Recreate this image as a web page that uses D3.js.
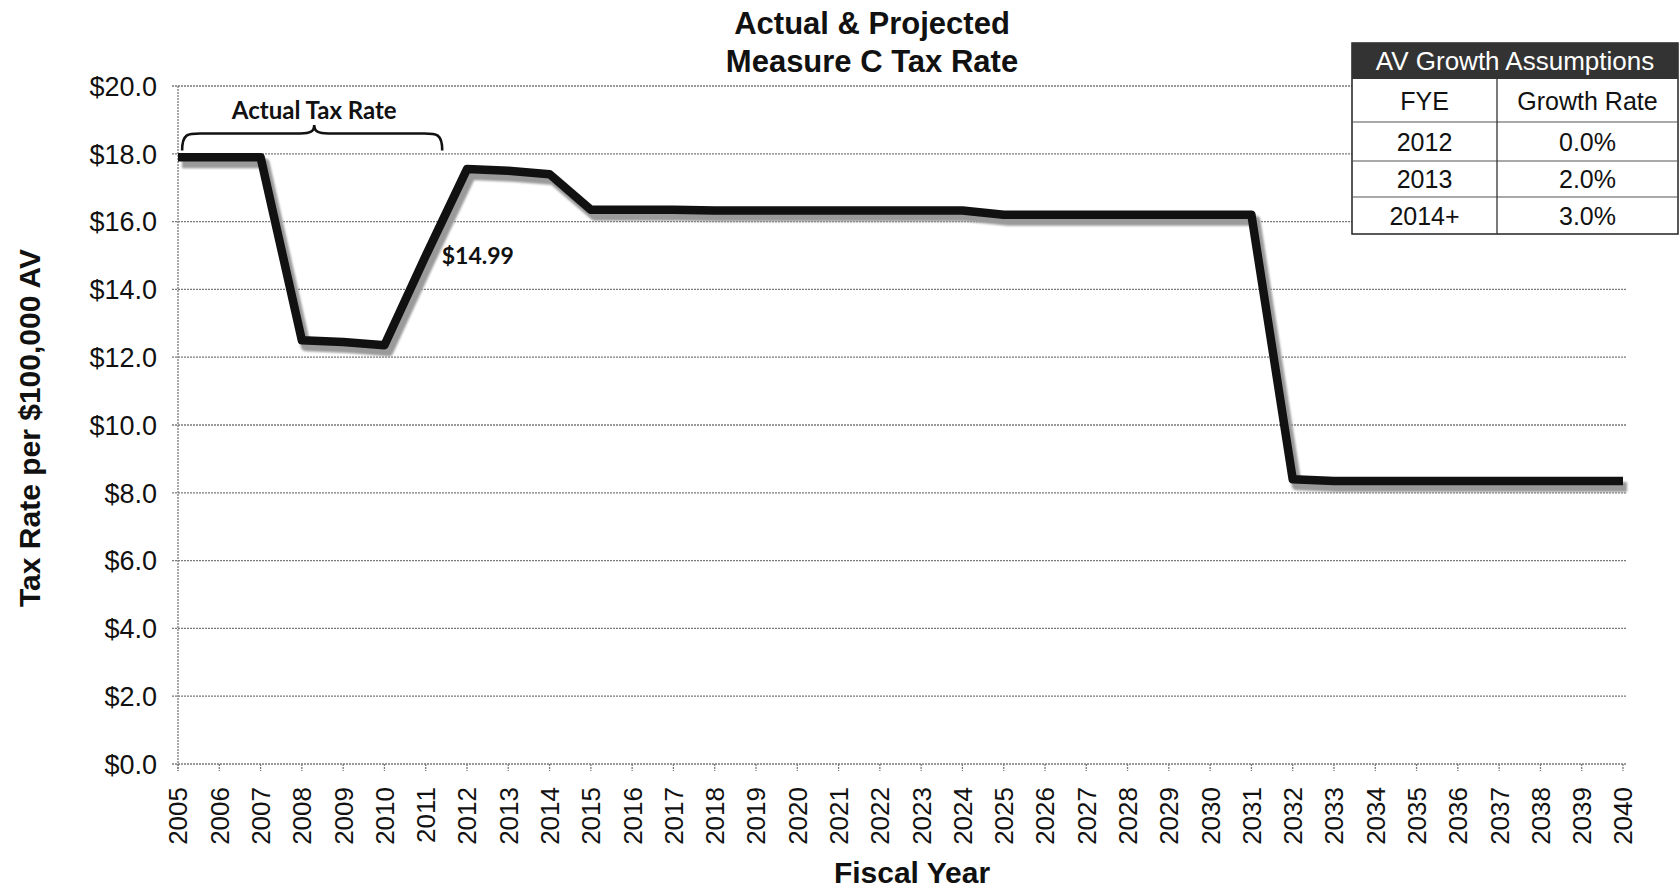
<!DOCTYPE html>
<html>
<head>
<meta charset="utf-8">
<script src="https://cdn.jsdelivr.net/npm/d3@7"></script>
<style>
body { margin:0; background:#fff; }
text { font-family: "Liberation Sans", Arial, sans-serif; fill:#111; }
</style>
</head>
<body>
<script>
// fiscal years and the tax rate per $100,000 AV
var years = d3.range(2005, 2041);
var rates = [17.9, 17.9, 17.9, 12.5, 12.45, 12.35, 14.99, 17.55, 17.5, 17.4,
             16.35, 16.35, 16.35, 16.33, 16.33, 16.33, 16.33, 16.33, 16.33, 16.33,
             16.2, 16.2, 16.2, 16.2, 16.2, 16.2, 16.2,
             8.4, 8.35, 8.35, 8.35, 8.35, 8.35, 8.35, 8.35, 8.35];
var yTicks = [0, 2, 4, 6, 8, 10, 12, 14, 16, 18, 20];

// AV growth table
var tableHead = ["FYE", "Growth Rate"];
var fyeRows = ["2012", "2013", "2014+"];
var growthRows = ["0.0%", "2.0%", "3.0%"];

var width = 1680, height = 891;
var svg = d3.select("body").append("svg").attr("width", width).attr("height", height);

var x = d3.scaleLinear().domain([2005, 2040]).range([178, 1623]);
var y = d3.scaleLinear().domain([0, 20]).range([764, 86]);

var defs = svg.append("defs");
defs.append("filter").attr("id", "soft")
    .append("feGaussianBlur").attr("stdDeviation", 1.3);

// title
svg.append("text").attr("x", 872).attr("y", 34).attr("text-anchor", "middle")
    .attr("font-size", 31).attr("font-weight", "bold").text("Actual & Projected");
svg.append("text").attr("x", 872).attr("y", 72).attr("text-anchor", "middle")
    .attr("font-size", 31).attr("font-weight", "bold").text("Measure C Tax Rate");

// gridlines
svg.append("g").selectAll("line").data(yTicks).enter().append("line")
    .attr("x1", x(2005) - 6).attr("x2", x(2040) + 3)
    .attr("y1", function(d){ return y(d); }).attr("y2", function(d){ return y(d); })
    .attr("stroke", "#7a7a7a").attr("stroke-width", 1.3).attr("stroke-dasharray", "2,1");

// left axis line
svg.append("line").attr("x1", x(2005)).attr("x2", x(2005)).attr("y1", y(20)).attr("y2", y(0) + 7)
    .attr("stroke", "#7a7a7a").attr("stroke-width", 1.3).attr("stroke-dasharray", "2,1");

// y tick labels
svg.append("g").selectAll("text").data(yTicks).enter().append("text")
    .attr("x", 157).attr("y", function(d){ return y(d); })
    .attr("dy", "0.36em").attr("text-anchor", "end").attr("font-size", 27)
    .text(function(d){ return "$" + d.toFixed(1); });

// x ticks + labels
svg.append("g").selectAll("line").data(years).enter().append("line")
    .attr("x1", function(d){ return x(d); }).attr("x2", function(d){ return x(d); })
    .attr("y1", y(0)).attr("y2", y(0) + 7)
    .attr("stroke", "#7a7a7a").attr("stroke-width", 1.3).attr("stroke-dasharray", "2,1");

svg.append("g").selectAll("text").data(years).enter().append("text")
    .attr("transform", function(d){ return "translate(" + x(d) + ",787) rotate(-90)"; })
    .attr("text-anchor", "end").attr("dy", "0.36em").attr("font-size", 26)
    .text(function(d){ return d; });

// axis titles
svg.append("text").attr("transform", "translate(29,428) rotate(-90)")
    .attr("text-anchor", "middle").attr("dy", "0.36em")
    .attr("font-size", 30).attr("font-weight", "bold").text("Tax Rate per $100,000 AV");
svg.append("text").attr("x", 912).attr("y", 883).attr("text-anchor", "middle")
    .attr("font-size", 30).attr("font-weight", "bold").text("Fiscal Year");

// the line, with its grey shadow
var line = d3.line().x(function(d, i){ return x(years[i]); }).y(function(d){ return y(d); });

svg.append("path").datum(rates).attr("d", line)
    .attr("transform", "translate(4,6)")
    .attr("fill", "none").attr("stroke", "#9a9a9a").attr("stroke-width", 10)
    .attr("stroke-linejoin", "round").attr("filter", "url(#soft)");
svg.append("path").datum(rates).attr("d", line)
    .attr("fill", "none").attr("stroke", "#111").attr("stroke-width", 8.5)
    .attr("stroke-linejoin", "round");

// "$14.99" label
svg.append("text").attr("x", x(2011) + 16).attr("y", y(14.99)).attr("dy", "0.36em")
    .style("font-family", "Lato, 'Open Sans', sans-serif").attr("font-weight", "bold")
    .attr("font-size", 23).text("$14.99");

// brace over the actual years
var bx0 = x(2005.1), bx1 = x(2011.4), bm = x(2008.3);
var by0 = y(18.1), by1 = y(18.6), byp = y(18.85);
var brace = d3.path();
brace.moveTo(bx0, by0);
brace.bezierCurveTo(bx0, by1, bx0 + 6, by1, bx0 + 18, by1);
brace.lineTo(bm - 14, by1);
brace.bezierCurveTo(bm - 4, by1, bm, by1 - 2, bm, byp);
brace.bezierCurveTo(bm, by1 - 2, bm + 4, by1, bm + 14, by1);
brace.lineTo(bx1 - 18, by1);
brace.bezierCurveTo(bx1 - 6, by1, bx1, by1, bx1, by0);
svg.append("path").attr("d", brace.toString())
    .attr("fill", "none").attr("stroke", "#111").attr("stroke-width", 2.6);

svg.append("text").attr("x", bm).attr("y", byp - 6).attr("text-anchor", "middle")
    .style("font-family", "Lato, 'Open Sans', sans-serif").attr("font-weight", "bold")
    .attr("font-size", 24).text("Actual Tax Rate");

// growth assumptions table
var tx0 = 1352, tx1 = 1678, tDiv = 1497;
var rowY = [43, 79, 122, 161, 197, 234];
var tbl = svg.append("g");
tbl.append("rect").attr("x", tx0).attr("y", rowY[0]).attr("width", tx1 - tx0).attr("height", rowY[5] - rowY[0])
    .attr("fill", "#fff").attr("stroke", "#222").attr("stroke-width", 1.5);
tbl.append("rect").attr("x", tx0).attr("y", rowY[0]).attr("width", tx1 - tx0).attr("height", rowY[1] - rowY[0])
    .attr("fill", "#333");
tbl.append("text").attr("x", (tx0 + tx1) / 2).attr("y", (rowY[0] + rowY[1]) / 2).attr("dy", "0.36em")
    .attr("text-anchor", "middle").attr("font-size", 26).style("fill", "#fff").text("AV Growth Assumptions");
tbl.selectAll("line.h").data(rowY.slice(2, 5)).enter().append("line")
    .attr("x1", tx0).attr("x2", tx1).attr("y1", function(d){ return d; }).attr("y2", function(d){ return d; })
    .attr("stroke", "#555").attr("stroke-width", 1.2);
tbl.append("line").attr("x1", tDiv).attr("x2", tDiv).attr("y1", rowY[1]).attr("y2", rowY[5])
    .attr("stroke", "#333").attr("stroke-width", 1.3);

var cx0 = (tx0 + tDiv) / 2, cx1 = (tDiv + tx1) / 2;
tbl.append("text").attr("x", cx0).attr("y", (rowY[1] + rowY[2]) / 2).attr("dy", "0.36em")
    .attr("text-anchor", "middle").attr("font-size", 25).text(tableHead[0]);
tbl.append("text").attr("x", cx1).attr("y", (rowY[1] + rowY[2]) / 2).attr("dy", "0.36em")
    .attr("text-anchor", "middle").attr("font-size", 25).text(tableHead[1]);
fyeRows.forEach(function(f, i){
    var cy = (rowY[i + 2] + rowY[i + 3]) / 2;
    tbl.append("text").attr("x", cx0).attr("y", cy).attr("dy", "0.36em")
        .attr("text-anchor", "middle").attr("font-size", 25).text(f);
    tbl.append("text").attr("x", cx1).attr("y", cy).attr("dy", "0.36em")
        .attr("text-anchor", "middle").attr("font-size", 25).text(growthRows[i]);
});
</script>
</body>
</html>
